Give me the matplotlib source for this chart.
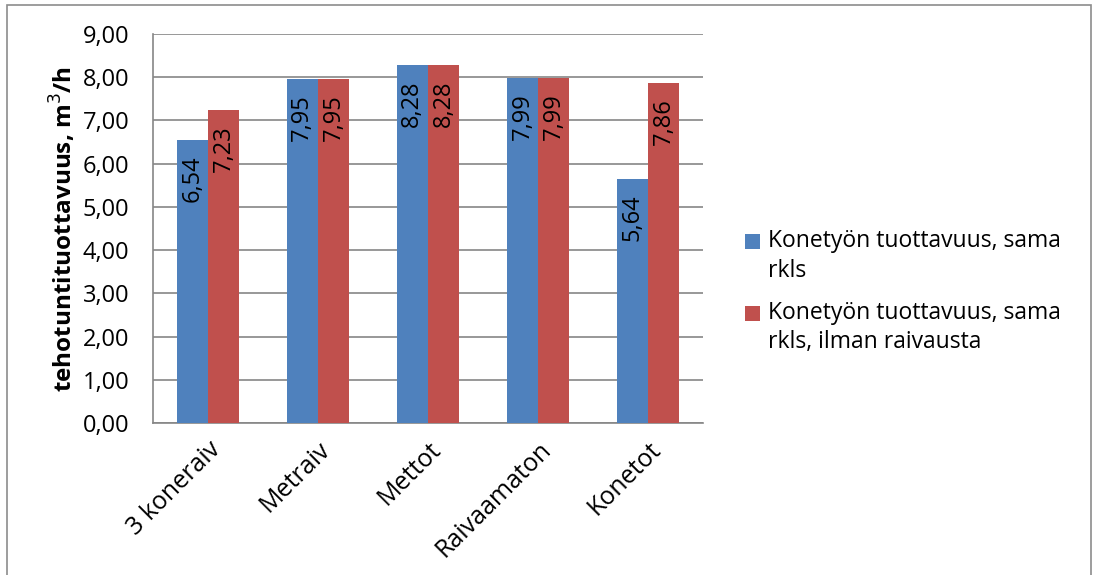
import numpy as np
import matplotlib.pyplot as plt
from matplotlib.patches import Rectangle

plt.rcParams['font.family'] = ['Open Sans', 'DejaVu Sans']

categories = ["3 koneraiv", "Metraiv", "Mettot", "Raivaamaton", "Konetot"]
sama_rkls = [6.54, 7.95, 8.28, 7.99, 5.64]
ilman_raivausta = [7.23, 7.95, 8.28, 7.99, 7.86]
series_names = ["Konetyön tuottavuus, sama\nrkls",
                "Konetyön tuottavuus, sama\nrkls, ilman raivausta"]
colors = ["#4F81BD", "#C0504D"]

fig = plt.figure(figsize=(10.97, 5.75), dpi=100)
ax = fig.add_axes([0.1395, 0.2643, 0.5014, 0.6766])

# chart area frame
fig.patches.append(Rectangle((7 / 1097, -0.05), 1084 / 1097, 1.05 - 5 / 575,
                             transform=fig.transFigure, fill=False,
                             edgecolor="#8c8c8c", linewidth=1.2))

x = np.arange(len(categories))
w = 0.285
for i, vals in enumerate([sama_rkls, ilman_raivausta]):
    pos = x + (i - 0.5) * w
    bars = ax.bar(pos, vals, width=w, color=colors[i], label=series_names[i], zorder=3)
    for b, v in zip(bars, vals):
        ax.annotate(f"{v:.2f}".replace(".", ","), (b.get_x() + b.get_width() / 2, v),
                    xytext=(0, -11), textcoords="offset points",
                    rotation=90, ha="center", va="top", fontsize=17, zorder=4)

ax.set_xlim(-0.5, len(categories) - 0.5)
ax.set_ylim(0, 9)
yt = np.arange(0, 9.01, 1)
ax.set_yticks(yt)
ax.set_yticklabels([f"{t:.2f}".replace(".", ",") for t in yt], fontsize=17)
ax.set_xticks(x)
ax.set_xticklabels(categories, rotation=45, ha="right", rotation_mode="anchor", fontsize=18)
ax.tick_params(axis="y", length=0, pad=17)
ax.tick_params(axis="x", length=0, pad=10)
ax.grid(axis="y", color="#868686", linewidth=1.2, zorder=0)
for s in ["top", "right"]:
    ax.spines[s].set_visible(False)
for s in ["left", "bottom"]:
    ax.spines[s].set_color("#868686")
    ax.spines[s].set_linewidth(1.2)

ax.set_ylabel("tehotuntituottavuus, m$^3$/h", fontsize=17.5, fontweight="bold", labelpad=3)

leg = ax.legend(loc="center left", bbox_to_anchor=(1.0764, 0.337), frameon=False,
                fontsize=16.5, handlelength=0.65, handleheight=0.65, handletextpad=0.35,
                labelspacing=0.8, borderpad=0, borderaxespad=0)
for t in leg.get_texts():
    t.set_linespacing(1.3)
# put each legend key beside the first line of its label
for h in leg.legend_handles:
    h.set_y(h.get_y() + 11)

fig.savefig("out.png", dpi=100)
